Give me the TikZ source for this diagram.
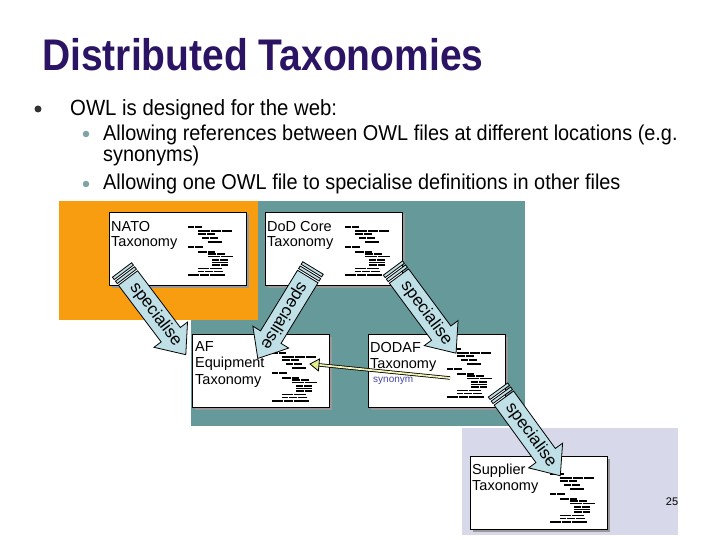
\documentclass[tikz,border=0pt]{standalone}
\usepackage{fontspec}
\setmainfont{Liberation Sans}
\newfontfamily\titlefont[FakeStretch=0.88]{Liberation Sans}
\newfontfamily\bodyfont[FakeStretch=0.925]{Liberation Sans}
\usetikzlibrary{calc}
\definecolor{titlecol}{HTML}{2B1464}
\definecolor{orangebg}{HTML}{F89C10}
\definecolor{tealbg}{HTML}{669999}
\definecolor{lavbg}{HTML}{D8D8EB}
\definecolor{arrowfill}{HTML}{BFE0E6}
\definecolor{synline}{HTML}{F2F2B4}
\definecolor{synhead}{HTML}{E4EE8A}
\definecolor{syntext}{HTML}{4646A8}
\definecolor{bulletdark}{HTML}{333333}
\definecolor{bulletsub}{HTML}{7FA3A3}
\tikzset{
  taxbox/.style={draw=black, line width=0.8, fill=white, minimum width=137, minimum height=73, anchor=north west, inner sep=0},
  boxshadow/.style={fill=black!40},
  boxlabel/.style={anchor=base west, inner sep=0, font=\fontsize{14.5}{16}\selectfont},
  arrowpart/.style={draw=black, line width=0.8, fill=arrowfill, line join=miter},
  arrowtext/.style={transform shape, inner sep=0, font=\fontsize{17}{18}\selectfont},
  bodytext/.style={anchor=base west, inner sep=0},
  dot/.style={circle, inner sep=0, fill},
  tinybar/.style={fill=black}
}
\newcommand\tinytxt[2]{%
  \foreach \a/\b/\c in {0/6/0, 7/7/0, 10/12/4, 23/10/4, 34/10/4, 10/8/7, 19/8/7, 14/7/11, 22/8/11, 20/14/15, 0/6/20, 7/8/20, 10/9/25, 20/7/25, 20/8/27, 29/8/27, 20/12/29.5, 33/12/29.5, 24/7/33, 32/8/33, 24/16/35.5, 24/8/38, 33/7/38, 10/11/41.5, 22/12/41.5, 10/6/44.5, 17/8/44.5, 26/9/44.5, 0/11/48, 12/9/48, 22/15/48}
    {\fill[tinybar] (#1+\a,#2+\c) rectangle ++(\b,1.9);}}
\newcommand\sparrow[3]{%
  \begin{scope}[shift={(#1)}, rotate=#2]
    \draw[arrowpart] (0,-12) rectangle (3,12);
    \draw[arrowpart] (5,-12) rectangle (8,12);
    \draw[arrowpart] (10,-12) -- (81,-12) -- (81,-21) -- (106,0) -- (81,21) -- (81,12) -- (10,12) -- cycle;
    \node[arrowtext] (#3) at (56,0) {specialise};
  \end{scope}}
\begin{document}
\begin{tikzpicture}[x=1pt, y=-1pt]
\useasboundingbox (0,0) rectangle (720,540);
\fill[white] (0,0) rectangle (720,540);

% title and bullets
\node[bodytext, text=titlecol, font=\titlefont\bfseries\fontsize{44.3}{50}\selectfont] (title) at (42,71) {Distributed Taxonomies};
\node[dot, fill=bulletdark, minimum size=7] (d1) at (38,109) {};
\node[bodytext, font=\bodyfont\fontsize{22}{24}\selectfont] (l1) at (70,116) {OWL is designed for the web:};
\node[dot, fill=bulletsub, minimum size=6.5] (d2) at (86,134) {};
\node[bodytext, font=\bodyfont\fontsize{21.5}{24}\selectfont] (l2) at (103,141) {Allowing references between OWL files at different locations (e.g.};
\node[bodytext, font=\bodyfont\fontsize{21.5}{24}\selectfont] (l3) at (103,162) {synonyms)};
\node[dot, fill=bulletsub, minimum size=6.5] (d3) at (86,184) {};
\node[bodytext, font=\bodyfont\fontsize{21.5}{24}\selectfont] (l4) at (103,190) {Allowing one OWL file to specialise definitions in other files};

% backgrounds
\fill[tealbg] (191,201) rectangle (525,426);
\fill[orangebg] (59,201) rectangle (258,320);
\fill[lavbg] (462,428) rectangle (678,535);

% boxes
\foreach \nm/\x/\y in {nato/109/212, dod/265/212, af/192/334, dodaf/368/334, sup/470/456}{
  \fill[boxshadow] (\x+2.5,\y+2.5) rectangle ++(137,73);
  \node[taxbox] (\nm) at (\x,\y) {};
}
\node[boxlabel] (natoA) at (111,231) {NATO};
\node[boxlabel] (natoB) at (111,246) {Taxonomy};
\node[boxlabel] (dodA) at (267,231) {DoD Core};
\node[boxlabel] (dodB) at (267,246) {Taxonomy};
\node[boxlabel] (afA) at (195,351) {AF};
\node[boxlabel] (afB) at (195,367) {Equipment};
\node[boxlabel] (afC) at (195,384) {Taxonomy};
\node[boxlabel] (dodafA) at (370,352) {DODAF};
\node[boxlabel] (dodafB) at (370,368) {Taxonomy};
\node[bodytext, text=syntext, font=\fontsize{10}{11}\selectfont] (syn) at (373,382) {synonym};
\node[boxlabel] (supA) at (472,474) {Supplier};
\node[boxlabel] (supB) at (472,490.5) {Taxonomy};

% tiny ontology listings
\tinytxt{188}{226}
\tinytxt{345}{226}
\tinytxt{272}{352}
\tinytxt{447}{348}
\tinytxt{550}{473}

% synonym connector
\coordinate (synS) at (450,378);
\coordinate (synE) at (318,364.8);
\coordinate (synT) at (310,364);
\draw[line width=0.8, double=synline, double distance=1.8] (synS) -- (synE);
\begin{scope}[shift={(synT)}, rotate=174.3]
  \filldraw[fill=synhead, draw=black, line width=0.8] (0,0) -- (-9,-6) -- (-9,6) -- cycle;
\end{scope}

% specialise arrows
\coordinate (a1) at (122,270);
\coordinate (a2) at (313,268);
\coordinate (a3) at (393,268);
\coordinate (a4) at (498,390);
\sparrow{a1}{-53}{sp1}
\sparrow{a2}{-121.4}{sp2}
\sparrow{a3}{-53.5}{sp3}
\sparrow{a4}{-54}{sp4}

% page number
\node[inner sep=0, font=\fontsize{11}{13}\selectfont] (pg) at (672,502) {25};
\end{tikzpicture}
\end{document}
